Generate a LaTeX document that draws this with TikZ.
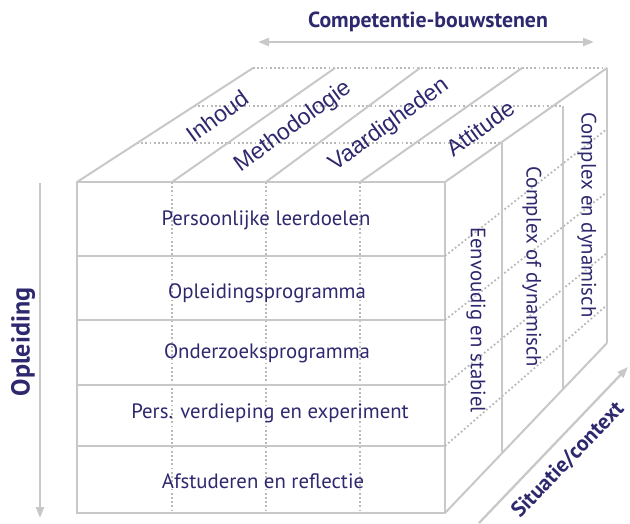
\documentclass[tikz,border=0pt]{standalone}
\usepackage{fontspec}
\setmainfont{PT Sans}
\newfontfamily\arialf{Liberation Sans}
\usetikzlibrary{arrows.meta}
\definecolor{ink}{RGB}{46,40,110}
\definecolor{edge}{RGB}{200,200,200}
\definecolor{dotc}{RGB}{185,185,185}
\begin{document}
\begin{tikzpicture}[x=1pt,y=-1pt,
  solidline/.style={draw=edge, line width=2pt},
  dotline/.style={draw=dotc, line width=1.8pt, dash pattern=on 1.8pt off 2.4pt},
  axisarrow/.style={draw=edge, line width=2.3pt},
  tip/.tip={Triangle[length=11pt,width=8pt]},
  rowlabel/.style={text=ink, inner sep=0pt, font=\fontsize{20.8}{21}\selectfont},
  toplabel/.style={text=ink, inner sep=0pt, rotate=36, font=\arialf\fontsize{23}{23}\selectfont},
  sidelabel/.style={text=ink, inner sep=0pt, rotate=-90, font=\fontsize{20.8}{21}\selectfont},
  axislabel/.style={text=ink, inner sep=0pt, font=\bfseries\fontsize{21.8}{22}\selectfont}
]
\useasboundingbox (0,0) rectangle (630,523);
% corners
\coordinate (ftl) at (77,182);
\coordinate (ftr) at (445,182);
\coordinate (fbl) at (77,513);
\coordinate (fbr) at (445,513);
\coordinate (btl) at (253,68);
\coordinate (btr) at (607,68);
\coordinate (bbr) at (607,343);
% front face
\foreach \x in {172,266,360}{
  \path[dotline] (\x,182) -- (\x,513);
}
\foreach \y in {256,320,385,446}{
  \path[solidline] (77,\y) -- (445,\y);
}
\path[solidline] (ftl) rectangle (fbr);
% top face
\path[dotline] (btl) -- (btr);
\path[dotline] (194,106) -- (563,106);
\path[dotline] (137,143) -- (502,143);
\path[solidline] (ftl) -- (btl);
\path[solidline] (172,182) -- (335,68);
\path[solidline] (266,182) -- (420,68);
\path[solidline] (360,182) -- (522,68);
\path[solidline] (ftr) -- (btr);
% side face
\path[dotline] (445,256) -- (607,129);
\path[dotline] (445,320) -- (607,192);
\path[dotline] (445,385) -- (607,253);
\path[dotline] (445,446) -- (607,305);
\path[solidline] (502,143) -- (502,452);
\path[solidline] (563,106) -- (563,390);
\path[solidline] (btr) -- (bbr);
\path[solidline] (fbr) -- (bbr);
% axes
\coordinate (ca) at (258,42);
\coordinate (cb) at (594,42);
\coordinate (oa) at (40,183);
\coordinate (ob) at (40,518);
\coordinate (sa) at (479,523);
\coordinate (sb) at (628,367);
\draw[axisarrow, {tip}-{tip}] (ca) -- (cb);
\draw[axisarrow, -{tip}] (oa) -- (ob);
\draw[axisarrow, -{tip}] (sa) -- (sb);
\node[axislabel] (competentie) at (428,22) {Competentie-bouwstenen};
\node[axislabel, rotate=90, font=\bfseries\fontsize{26}{26}\selectfont] (opleiding) at (23,342) {Opleiding};
\node[axislabel, rotate=46] (situatie) at (568,460) {Situatie/context};
% front labels
\node[rowlabel] (r1) at (266,220) {Persoonlijke leerdoelen};
\node[rowlabel] (r2) at (267,293) {Opleidingsprogramma};
\node[rowlabel] (r3) at (267,353) {Onderzoeksprogramma};
\node[rowlabel] (r4) at (270,413) {Pers. verdieping en experiment};
\node[rowlabel] (r5) at (263,481) {Afstuderen en reflectie};
% top labels
\node[toplabel] (t1) at (217,116) {Inhoud};
\node[toplabel] (t2) at (293,127) {Methodologie};
\node[toplabel] (t3) at (389,125) {Vaardigheden};
\node[toplabel] (t4) at (480,128) {Attitude};
% side labels
\node[sidelabel] (s1) at (476,320) {Eenvoudig en stabiel};
\node[sidelabel] (s2) at (532,267) {Complex of dynamisch};
\node[sidelabel] (s3) at (587,215) {Complex en dynamisch};
\end{tikzpicture}
\end{document}
